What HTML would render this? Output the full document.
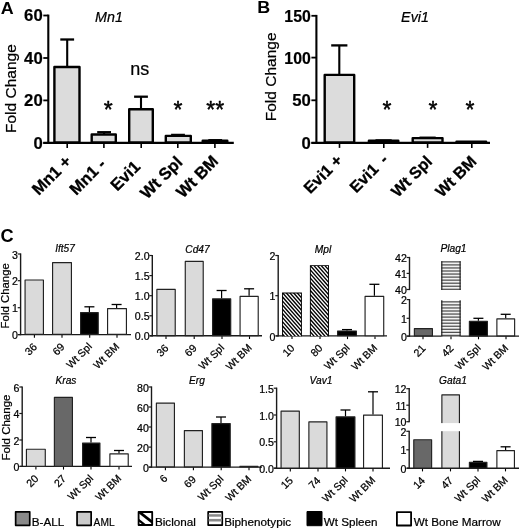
<!DOCTYPE html>
<html><head><meta charset="utf-8"><title>Figure</title>
<style>
html,body{margin:0;padding:0;background:#fff;}
body{width:520px;height:529px;overflow:hidden;}
svg{display:block;font-family:"Liberation Sans", sans-serif;filter:blur(0.35px);}
</style></head><body>
<svg width="520" height="529" viewBox="0 0 520 529">
<g stroke-linejoin="round">
<rect width="520" height="529" fill="#fff"/>
<text transform="translate(0.8,13.5) scale(1.1,1)" font-size="16.3" font-weight="bold">A</text>
<line x1="48.30" y1="14.60" x2="48.30" y2="144.00" stroke="#000" stroke-width="2.1"/>
<line x1="43.30" y1="142.90" x2="233.80" y2="142.90" stroke="#000" stroke-width="2.3"/>
<line x1="43.30" y1="15.50" x2="48.30" y2="15.50" stroke="#000" stroke-width="1.8"/>
<text x="42.70" y="21.40" font-size="17.4" text-anchor="end" font-weight="bold" font-style="normal" fill="#000" stroke="#000" stroke-width="0.2" textLength="18.6" lengthAdjust="spacingAndGlyphs">60</text>
<line x1="43.30" y1="58.00" x2="48.30" y2="58.00" stroke="#000" stroke-width="1.8"/>
<text x="42.70" y="63.90" font-size="17.4" text-anchor="end" font-weight="bold" font-style="normal" fill="#000" stroke="#000" stroke-width="0.2" textLength="18.6" lengthAdjust="spacingAndGlyphs">40</text>
<line x1="43.30" y1="100.40" x2="48.30" y2="100.40" stroke="#000" stroke-width="1.8"/>
<text x="42.70" y="106.30" font-size="17.4" text-anchor="end" font-weight="bold" font-style="normal" fill="#000" stroke="#000" stroke-width="0.2" textLength="18.6" lengthAdjust="spacingAndGlyphs">20</text>
<line x1="43.30" y1="142.90" x2="48.30" y2="142.90" stroke="#000" stroke-width="1.8"/>
<text x="42.70" y="148.80" font-size="17.4" text-anchor="end" font-weight="bold" font-style="normal" fill="#000" stroke="#000" stroke-width="0.2" textLength="9.3" lengthAdjust="spacingAndGlyphs">0</text>
<text x="109.00" y="22.40" font-size="14.3" text-anchor="middle" font-weight="normal" font-style="italic" fill="#000" stroke="#000" stroke-width="0.22">Mn1</text>
<rect x="54.40" y="67.00" width="25.10" height="75.50" fill="#dcdcdc" stroke="#000" stroke-width="2.4"/>
<rect x="91.70" y="134.50" width="24.10" height="8.00" fill="#dcdcdc" stroke="#000" stroke-width="2.4"/>
<rect x="129.20" y="109.20" width="23.60" height="33.30" fill="#dcdcdc" stroke="#000" stroke-width="2.4"/>
<rect x="165.80" y="135.90" width="25.00" height="6.60" fill="#dcdcdc" stroke="#000" stroke-width="2.4"/>
<rect x="202.70" y="140.80" width="24.60" height="1.70" fill="#dcdcdc" stroke="#000" stroke-width="2.4"/>
<line x1="67.20" y1="66.80" x2="67.20" y2="39.50" stroke="#000" stroke-width="2.1"/>
<line x1="60.30" y1="39.50" x2="74.10" y2="39.50" stroke="#000" stroke-width="2.3"/>
<line x1="104.10" y1="134.30" x2="104.10" y2="132.20" stroke="#000" stroke-width="2.1"/>
<line x1="97.20" y1="132.20" x2="111.00" y2="132.20" stroke="#000" stroke-width="2.3"/>
<line x1="141.00" y1="109.00" x2="141.00" y2="96.70" stroke="#000" stroke-width="2.1"/>
<line x1="134.10" y1="96.70" x2="147.90" y2="96.70" stroke="#000" stroke-width="2.3"/>
<line x1="178.00" y1="135.70" x2="178.00" y2="134.90" stroke="#000" stroke-width="2.1"/>
<line x1="171.10" y1="134.90" x2="184.90" y2="134.90" stroke="#000" stroke-width="2.3"/>
<line x1="215.20" y1="140.60" x2="215.20" y2="140.20" stroke="#000" stroke-width="2.1"/>
<line x1="208.30" y1="140.20" x2="222.10" y2="140.20" stroke="#000" stroke-width="2.3"/>
<line x1="67.20" y1="143.90" x2="67.20" y2="147.90" stroke="#000" stroke-width="1.6"/>
<line x1="103.90" y1="143.90" x2="103.90" y2="147.90" stroke="#000" stroke-width="1.6"/>
<line x1="141.20" y1="143.90" x2="141.20" y2="147.90" stroke="#000" stroke-width="1.6"/>
<line x1="177.80" y1="143.90" x2="177.80" y2="147.90" stroke="#000" stroke-width="1.6"/>
<line x1="214.90" y1="143.90" x2="214.90" y2="147.90" stroke="#000" stroke-width="1.6"/>
<text transform="translate(72.30,162.50) rotate(-45)" font-size="16.6" text-anchor="end" font-weight="bold" font-style="normal" fill="#000" stroke="#000" stroke-width="0.3">Mn1 +</text>
<text transform="translate(106.80,165.30) rotate(-45)" font-size="16.6" text-anchor="end" font-weight="bold" font-style="normal" fill="#000" stroke="#000" stroke-width="0.3">Mn1 -</text>
<text transform="translate(141.30,167.70) rotate(-45)" font-size="16.6" text-anchor="end" font-weight="bold" font-style="normal" fill="#000" stroke="#000" stroke-width="0.3">Evi1</text>
<text transform="translate(183.50,163.30) rotate(-45)" font-size="16.6" text-anchor="end" font-weight="bold" font-style="normal" fill="#000" stroke="#000" stroke-width="0.3">Wt Spl</text>
<text transform="translate(219.40,162.30) rotate(-45)" font-size="16.6" text-anchor="end" font-weight="bold" font-style="normal" fill="#000" stroke="#000" stroke-width="0.3">Wt BM</text>
<text x="108.30" y="118.20" font-size="23" text-anchor="middle" font-weight="normal" font-style="normal" fill="#000" stroke="#000" stroke-width="0.45">*</text>
<text x="139.80" y="75.20" font-size="18" text-anchor="middle" font-weight="normal" font-style="normal" fill="#000" stroke="#000" stroke-width="0.22">ns</text>
<text x="178.00" y="118.20" font-size="23" text-anchor="middle" font-weight="normal" font-style="normal" fill="#000" stroke="#000" stroke-width="0.45">*</text>
<text x="215.30" y="118.20" font-size="23" text-anchor="middle" font-weight="normal" font-style="normal" fill="#000" stroke="#000" stroke-width="0.45">**</text>
<text transform="translate(16.00,88.6) rotate(-90) scale(1.125,1)" font-size="13.8" text-anchor="middle" stroke="#000" stroke-width="0.22">Fold Change</text>
<text transform="translate(257.3,13.4) scale(1.1,1)" font-size="16.3" font-weight="bold">B</text>
<line x1="316.40" y1="14.90" x2="316.40" y2="144.00" stroke="#000" stroke-width="2.1"/>
<line x1="311.40" y1="142.90" x2="490.00" y2="142.90" stroke="#000" stroke-width="2.3"/>
<line x1="311.40" y1="15.80" x2="316.40" y2="15.80" stroke="#000" stroke-width="1.8"/>
<text x="310.80" y="21.70" font-size="17.4" text-anchor="end" font-weight="bold" font-style="normal" fill="#000" stroke="#000" stroke-width="0.2" textLength="26.5" lengthAdjust="spacingAndGlyphs">150</text>
<line x1="311.40" y1="57.60" x2="316.40" y2="57.60" stroke="#000" stroke-width="1.8"/>
<text x="310.80" y="63.50" font-size="17.4" text-anchor="end" font-weight="bold" font-style="normal" fill="#000" stroke="#000" stroke-width="0.2" textLength="26.5" lengthAdjust="spacingAndGlyphs">100</text>
<line x1="311.40" y1="100.30" x2="316.40" y2="100.30" stroke="#000" stroke-width="1.8"/>
<text x="310.80" y="106.20" font-size="17.4" text-anchor="end" font-weight="bold" font-style="normal" fill="#000" stroke="#000" stroke-width="0.2" textLength="18.6" lengthAdjust="spacingAndGlyphs">50</text>
<line x1="311.40" y1="142.90" x2="316.40" y2="142.90" stroke="#000" stroke-width="1.8"/>
<text x="310.80" y="148.80" font-size="17.4" text-anchor="end" font-weight="bold" font-style="normal" fill="#000" stroke="#000" stroke-width="0.2" textLength="9.3" lengthAdjust="spacingAndGlyphs">0</text>
<text x="415.00" y="22.40" font-size="14.3" text-anchor="middle" font-weight="normal" font-style="italic" fill="#000" stroke="#000" stroke-width="0.22">Evi1</text>
<rect x="324.70" y="74.90" width="29.50" height="67.60" fill="#dcdcdc" stroke="#000" stroke-width="2.4"/>
<rect x="368.90" y="140.80" width="29.40" height="1.70" fill="#dcdcdc" stroke="#000" stroke-width="2.4"/>
<rect x="412.70" y="138.10" width="29.80" height="4.40" fill="#dcdcdc" stroke="#000" stroke-width="2.4"/>
<rect x="456.50" y="141.80" width="29.60" height="0.70" fill="#dcdcdc" stroke="#000" stroke-width="2.4"/>
<line x1="339.30" y1="74.70" x2="339.30" y2="45.40" stroke="#000" stroke-width="2.1"/>
<line x1="331.20" y1="45.40" x2="347.40" y2="45.40" stroke="#000" stroke-width="2.3"/>
<line x1="383.60" y1="140.60" x2="383.60" y2="140.40" stroke="#000" stroke-width="2.1"/>
<line x1="375.50" y1="140.40" x2="391.70" y2="140.40" stroke="#000" stroke-width="2.3"/>
<line x1="427.60" y1="137.90" x2="427.60" y2="137.70" stroke="#000" stroke-width="2.1"/>
<line x1="419.50" y1="137.70" x2="435.70" y2="137.70" stroke="#000" stroke-width="2.3"/>
<line x1="339.50" y1="143.90" x2="339.50" y2="147.90" stroke="#000" stroke-width="1.6"/>
<line x1="383.80" y1="143.90" x2="383.80" y2="147.90" stroke="#000" stroke-width="1.6"/>
<line x1="427.60" y1="143.90" x2="427.60" y2="147.90" stroke="#000" stroke-width="1.6"/>
<line x1="471.80" y1="143.90" x2="471.80" y2="147.90" stroke="#000" stroke-width="1.6"/>
<text transform="translate(343.50,161.40) rotate(-45)" font-size="16.1" text-anchor="end" font-weight="bold" font-style="normal" fill="#000" stroke="#000" stroke-width="0.3">Evi1 +</text>
<text transform="translate(389.00,160.80) rotate(-45)" font-size="16.1" text-anchor="end" font-weight="bold" font-style="normal" fill="#000" word-spacing="3.5" stroke="#000" stroke-width="0.3">Evi1 -</text>
<text transform="translate(433.20,162.50) rotate(-45)" font-size="16.1" text-anchor="end" font-weight="bold" font-style="normal" fill="#000" stroke="#000" stroke-width="0.3">Wt Spl</text>
<text transform="translate(477.50,162.50) rotate(-45)" font-size="16.1" text-anchor="end" font-weight="bold" font-style="normal" fill="#000" stroke="#000" stroke-width="0.3">Wt BM</text>
<text x="387.00" y="118.20" font-size="23" text-anchor="middle" font-weight="normal" font-style="normal" fill="#000" stroke="#000" stroke-width="0.45">*</text>
<text x="433.00" y="118.20" font-size="23" text-anchor="middle" font-weight="normal" font-style="normal" fill="#000" stroke="#000" stroke-width="0.45">*</text>
<text x="470.00" y="118.20" font-size="23" text-anchor="middle" font-weight="normal" font-style="normal" fill="#000" stroke="#000" stroke-width="0.45">*</text>
<text transform="translate(276.00,76.9) rotate(-90) scale(1.125,1)" font-size="13.8" text-anchor="middle" stroke="#000" stroke-width="0.22">Fold Change</text>
<text x="0.6" y="242.3" font-size="18.2" font-weight="bold">C</text>
<defs>
<pattern id="diag" width="3.2" height="4.6" patternUnits="userSpaceOnUse">
<rect width="3.2" height="4.6" fill="#fff"/>
<path d="M-3.2,-4.6 L6.4,9.2 M-6.4,-4.6 L3.2,9.2 M0,-4.6 L9.6,9.2" stroke="#000" stroke-width="1.55"/>
</pattern>
<pattern id="hor" width="3" height="3" patternUnits="userSpaceOnUse">
<rect width="3" height="3" fill="#f2f2f2"/>
<rect y="0" width="3" height="1.35" fill="#4a4a4a"/>
</pattern>
</defs>
<line x1="20.60" y1="253.40" x2="20.60" y2="335.20" stroke="#1a1a1a" stroke-width="1.4"/>
<line x1="18.20" y1="334.60" x2="131.00" y2="334.60" stroke="#1a1a1a" stroke-width="1.4"/>
<line x1="17.70" y1="254.00" x2="20.60" y2="254.00" stroke="#1a1a1a" stroke-width="1.2"/>
<text x="17.90" y="258.60" font-size="10.6" text-anchor="end" font-weight="normal" font-style="normal" fill="#000" stroke="#000" stroke-width="0.22">3</text>
<line x1="17.70" y1="280.70" x2="20.60" y2="280.70" stroke="#1a1a1a" stroke-width="1.2"/>
<text x="17.90" y="285.30" font-size="10.6" text-anchor="end" font-weight="normal" font-style="normal" fill="#000" stroke="#000" stroke-width="0.22">2</text>
<line x1="17.70" y1="307.70" x2="20.60" y2="307.70" stroke="#1a1a1a" stroke-width="1.2"/>
<text x="17.90" y="312.30" font-size="10.6" text-anchor="end" font-weight="normal" font-style="normal" fill="#000" stroke="#000" stroke-width="0.22">1</text>
<line x1="17.70" y1="334.60" x2="20.60" y2="334.60" stroke="#1a1a1a" stroke-width="1.2"/>
<text x="17.90" y="339.20" font-size="10.6" text-anchor="end" font-weight="normal" font-style="normal" fill="#000" stroke="#000" stroke-width="0.22">0</text>
<text x="65.00" y="252.40" font-size="10.2" text-anchor="middle" font-weight="normal" font-style="italic" fill="#000" textLength="19.5" lengthAdjust="spacingAndGlyphs" stroke="#000" stroke-width="0.22">Ift57</text>
<rect x="25.07" y="279.97" width="18.35" height="54.45" fill="#dadada" stroke="#222" stroke-width="1.15"/>
<rect x="52.58" y="262.57" width="18.85" height="71.85" fill="#dadada" stroke="#222" stroke-width="1.15"/>
<rect x="80.58" y="312.57" width="17.65" height="21.85" fill="#000" stroke="#222" stroke-width="1.15"/>
<rect x="107.58" y="308.57" width="18.85" height="25.85" fill="#fff" stroke="#222" stroke-width="1.15"/>
<line x1="89.40" y1="312.00" x2="89.40" y2="306.80" stroke="#000" stroke-width="1.2"/>
<line x1="84.40" y1="306.80" x2="94.40" y2="306.80" stroke="#000" stroke-width="1.3"/>
<line x1="116.60" y1="308.00" x2="116.60" y2="304.50" stroke="#000" stroke-width="1.2"/>
<line x1="111.60" y1="304.50" x2="121.60" y2="304.50" stroke="#000" stroke-width="1.3"/>
<line x1="34.40" y1="335.10" x2="34.40" y2="337.80" stroke="#000" stroke-width="1.1"/>
<text transform="translate(37.70,347.60) rotate(-45)" font-size="10.7" text-anchor="end" font-weight="normal" font-style="normal" fill="#000" stroke="#000" stroke-width="0.22">36</text>
<line x1="62.00" y1="335.10" x2="62.00" y2="337.80" stroke="#000" stroke-width="1.1"/>
<text transform="translate(65.30,347.60) rotate(-45)" font-size="10.7" text-anchor="end" font-weight="normal" font-style="normal" fill="#000" stroke="#000" stroke-width="0.22">69</text>
<line x1="89.70" y1="335.10" x2="89.70" y2="337.80" stroke="#000" stroke-width="1.1"/>
<text transform="translate(92.60,347.20) rotate(-45)" font-size="10.5" text-anchor="end" font-weight="normal" font-style="normal" fill="#000" stroke="#000" stroke-width="0.22">Wt Spl</text>
<line x1="117.00" y1="335.10" x2="117.00" y2="337.80" stroke="#000" stroke-width="1.1"/>
<text transform="translate(119.90,347.20) rotate(-45)" font-size="10.5" text-anchor="end" font-weight="normal" font-style="normal" fill="#000" stroke="#000" stroke-width="0.22">Wt BM</text>
<text transform="translate(8.60,295.80) rotate(-90)" font-size="11.4" text-anchor="middle" font-weight="normal" font-style="normal" fill="#000" stroke="#000" stroke-width="0.22">Fold Change</text>
<line x1="152.30" y1="254.90" x2="152.30" y2="336.40" stroke="#1a1a1a" stroke-width="1.4"/>
<line x1="149.90" y1="335.80" x2="262.00" y2="335.80" stroke="#1a1a1a" stroke-width="1.4"/>
<line x1="149.40" y1="255.50" x2="152.30" y2="255.50" stroke="#1a1a1a" stroke-width="1.2"/>
<text x="149.60" y="260.10" font-size="10.6" text-anchor="end" font-weight="normal" font-style="normal" fill="#000" stroke="#000" stroke-width="0.22">2.0</text>
<line x1="149.40" y1="275.60" x2="152.30" y2="275.60" stroke="#1a1a1a" stroke-width="1.2"/>
<text x="149.60" y="280.20" font-size="10.6" text-anchor="end" font-weight="normal" font-style="normal" fill="#000" stroke="#000" stroke-width="0.22">1.5</text>
<line x1="149.40" y1="295.70" x2="152.30" y2="295.70" stroke="#1a1a1a" stroke-width="1.2"/>
<text x="149.60" y="300.30" font-size="10.6" text-anchor="end" font-weight="normal" font-style="normal" fill="#000" stroke="#000" stroke-width="0.22">1.0</text>
<line x1="149.40" y1="315.80" x2="152.30" y2="315.80" stroke="#1a1a1a" stroke-width="1.2"/>
<text x="149.60" y="320.40" font-size="10.6" text-anchor="end" font-weight="normal" font-style="normal" fill="#000" stroke="#000" stroke-width="0.22">0.5</text>
<line x1="149.40" y1="335.80" x2="152.30" y2="335.80" stroke="#1a1a1a" stroke-width="1.2"/>
<text x="149.60" y="340.40" font-size="10.6" text-anchor="end" font-weight="normal" font-style="normal" fill="#000" stroke="#000" stroke-width="0.22">0.0</text>
<text x="197.50" y="253.40" font-size="10.2" text-anchor="middle" font-weight="normal" font-style="italic" fill="#000" stroke="#000" stroke-width="0.22">Cd47</text>
<rect x="156.88" y="289.38" width="18.35" height="46.25" fill="#dadada" stroke="#222" stroke-width="1.15"/>
<rect x="185.27" y="261.38" width="17.95" height="74.25" fill="#dadada" stroke="#222" stroke-width="1.15"/>
<rect x="212.57" y="298.88" width="18.15" height="36.75" fill="#000" stroke="#222" stroke-width="1.15"/>
<rect x="240.07" y="296.38" width="18.15" height="39.25" fill="#fff" stroke="#222" stroke-width="1.15"/>
<line x1="221.60" y1="298.30" x2="221.60" y2="290.50" stroke="#000" stroke-width="1.2"/>
<line x1="216.60" y1="290.50" x2="226.60" y2="290.50" stroke="#000" stroke-width="1.3"/>
<line x1="249.10" y1="295.80" x2="249.10" y2="288.80" stroke="#000" stroke-width="1.2"/>
<line x1="244.10" y1="288.80" x2="254.10" y2="288.80" stroke="#000" stroke-width="1.3"/>
<line x1="166.00" y1="336.30" x2="166.00" y2="339.00" stroke="#000" stroke-width="1.1"/>
<text transform="translate(169.30,348.80) rotate(-45)" font-size="10.7" text-anchor="end" font-weight="normal" font-style="normal" fill="#000" stroke="#000" stroke-width="0.22">36</text>
<line x1="194.20" y1="336.30" x2="194.20" y2="339.00" stroke="#000" stroke-width="1.1"/>
<text transform="translate(197.50,348.80) rotate(-45)" font-size="10.7" text-anchor="end" font-weight="normal" font-style="normal" fill="#000" stroke="#000" stroke-width="0.22">69</text>
<line x1="222.00" y1="336.30" x2="222.00" y2="339.00" stroke="#000" stroke-width="1.1"/>
<text transform="translate(224.90,348.40) rotate(-45)" font-size="10.5" text-anchor="end" font-weight="normal" font-style="normal" fill="#000" stroke="#000" stroke-width="0.22">Wt Spl</text>
<line x1="249.50" y1="336.30" x2="249.50" y2="339.00" stroke="#000" stroke-width="1.1"/>
<text transform="translate(252.40,348.40) rotate(-45)" font-size="10.5" text-anchor="end" font-weight="normal" font-style="normal" fill="#000" stroke="#000" stroke-width="0.22">Wt BM</text>
<line x1="278.20" y1="254.90" x2="278.20" y2="336.50" stroke="#1a1a1a" stroke-width="1.4"/>
<line x1="275.80" y1="335.90" x2="387.00" y2="335.90" stroke="#1a1a1a" stroke-width="1.4"/>
<line x1="275.30" y1="255.50" x2="278.20" y2="255.50" stroke="#1a1a1a" stroke-width="1.2"/>
<text x="275.50" y="260.10" font-size="10.6" text-anchor="end" font-weight="normal" font-style="normal" fill="#000" stroke="#000" stroke-width="0.22">2</text>
<line x1="275.30" y1="295.70" x2="278.20" y2="295.70" stroke="#1a1a1a" stroke-width="1.2"/>
<text x="275.50" y="300.30" font-size="10.6" text-anchor="end" font-weight="normal" font-style="normal" fill="#000" stroke="#000" stroke-width="0.22">1</text>
<line x1="275.30" y1="335.90" x2="278.20" y2="335.90" stroke="#1a1a1a" stroke-width="1.2"/>
<text x="275.50" y="340.50" font-size="10.6" text-anchor="end" font-weight="normal" font-style="normal" fill="#000" stroke="#000" stroke-width="0.22">0</text>
<text x="323.00" y="252.60" font-size="10.2" text-anchor="middle" font-weight="normal" font-style="italic" fill="#000" stroke="#000" stroke-width="0.22">Mpl</text>
<clipPath id="dg1"><rect x="282.90" y="293.40" width="18.10" height="42.80"/></clipPath>
<rect x="282.00" y="292.50" width="19.90" height="43.80" fill="#000"/>
<g clip-path="url(#dg1)" stroke="#fff" stroke-width="1.35">
<line x1="232.24" y1="287.50" x2="279.65" y2="341.30"/>
<line x1="235.89" y1="287.50" x2="283.30" y2="341.30"/>
<line x1="239.54" y1="287.50" x2="286.95" y2="341.30"/>
<line x1="243.19" y1="287.50" x2="290.60" y2="341.30"/>
<line x1="246.84" y1="287.50" x2="294.25" y2="341.30"/>
<line x1="250.49" y1="287.50" x2="297.90" y2="341.30"/>
<line x1="254.14" y1="287.50" x2="301.55" y2="341.30"/>
<line x1="257.79" y1="287.50" x2="305.20" y2="341.30"/>
<line x1="261.44" y1="287.50" x2="308.85" y2="341.30"/>
<line x1="265.09" y1="287.50" x2="312.50" y2="341.30"/>
<line x1="268.74" y1="287.50" x2="316.15" y2="341.30"/>
<line x1="272.39" y1="287.50" x2="319.80" y2="341.30"/>
<line x1="276.04" y1="287.50" x2="323.45" y2="341.30"/>
<line x1="279.69" y1="287.50" x2="327.10" y2="341.30"/>
<line x1="283.34" y1="287.50" x2="330.75" y2="341.30"/>
<line x1="286.99" y1="287.50" x2="334.40" y2="341.30"/>
<line x1="290.64" y1="287.50" x2="338.05" y2="341.30"/>
<line x1="294.29" y1="287.50" x2="341.70" y2="341.30"/>
<line x1="297.94" y1="287.50" x2="345.35" y2="341.30"/>
</g>
<clipPath id="dg2"><rect x="310.80" y="266.10" width="17.30" height="70.10"/></clipPath>
<rect x="309.90" y="265.20" width="19.10" height="71.10" fill="#000"/>
<g clip-path="url(#dg2)" stroke="#fff" stroke-width="1.35">
<line x1="234.34" y1="260.20" x2="305.80" y2="341.30"/>
<line x1="237.99" y1="260.20" x2="309.45" y2="341.30"/>
<line x1="241.64" y1="260.20" x2="313.10" y2="341.30"/>
<line x1="245.29" y1="260.20" x2="316.75" y2="341.30"/>
<line x1="248.94" y1="260.20" x2="320.40" y2="341.30"/>
<line x1="252.59" y1="260.20" x2="324.05" y2="341.30"/>
<line x1="256.24" y1="260.20" x2="327.70" y2="341.30"/>
<line x1="259.89" y1="260.20" x2="331.35" y2="341.30"/>
<line x1="263.54" y1="260.20" x2="335.00" y2="341.30"/>
<line x1="267.19" y1="260.20" x2="338.65" y2="341.30"/>
<line x1="270.84" y1="260.20" x2="342.30" y2="341.30"/>
<line x1="274.49" y1="260.20" x2="345.95" y2="341.30"/>
<line x1="278.14" y1="260.20" x2="349.60" y2="341.30"/>
<line x1="281.79" y1="260.20" x2="353.25" y2="341.30"/>
<line x1="285.44" y1="260.20" x2="356.90" y2="341.30"/>
<line x1="289.09" y1="260.20" x2="360.55" y2="341.30"/>
<line x1="292.74" y1="260.20" x2="364.20" y2="341.30"/>
<line x1="296.39" y1="260.20" x2="367.85" y2="341.30"/>
<line x1="300.04" y1="260.20" x2="371.50" y2="341.30"/>
<line x1="303.69" y1="260.20" x2="375.15" y2="341.30"/>
<line x1="307.34" y1="260.20" x2="378.80" y2="341.30"/>
<line x1="310.99" y1="260.20" x2="382.45" y2="341.30"/>
<line x1="314.64" y1="260.20" x2="386.10" y2="341.30"/>
<line x1="318.29" y1="260.20" x2="389.75" y2="341.30"/>
<line x1="321.94" y1="260.20" x2="393.40" y2="341.30"/>
<line x1="325.59" y1="260.20" x2="397.05" y2="341.30"/>
</g>
<rect x="337.57" y="330.97" width="18.85" height="4.75" fill="#000" stroke="#222" stroke-width="1.15"/>
<rect x="365.07" y="296.38" width="18.65" height="39.35" fill="#fff" stroke="#222" stroke-width="1.15"/>
<line x1="347.00" y1="330.40" x2="347.00" y2="329.60" stroke="#000" stroke-width="1.2"/>
<line x1="342.00" y1="329.60" x2="352.00" y2="329.60" stroke="#000" stroke-width="1.3"/>
<line x1="374.40" y1="295.80" x2="374.40" y2="284.30" stroke="#000" stroke-width="1.2"/>
<line x1="369.40" y1="284.30" x2="379.40" y2="284.30" stroke="#000" stroke-width="1.3"/>
<line x1="292.00" y1="336.40" x2="292.00" y2="339.10" stroke="#000" stroke-width="1.1"/>
<text transform="translate(295.30,348.90) rotate(-45)" font-size="10.7" text-anchor="end" font-weight="normal" font-style="normal" fill="#000" stroke="#000" stroke-width="0.22">10</text>
<line x1="320.00" y1="336.40" x2="320.00" y2="339.10" stroke="#000" stroke-width="1.1"/>
<text transform="translate(323.30,348.90) rotate(-45)" font-size="10.7" text-anchor="end" font-weight="normal" font-style="normal" fill="#000" stroke="#000" stroke-width="0.22">80</text>
<line x1="347.50" y1="336.40" x2="347.50" y2="339.10" stroke="#000" stroke-width="1.1"/>
<text transform="translate(350.40,348.50) rotate(-45)" font-size="10.5" text-anchor="end" font-weight="normal" font-style="normal" fill="#000" stroke="#000" stroke-width="0.22">Wt Spl</text>
<line x1="375.00" y1="336.40" x2="375.00" y2="339.10" stroke="#000" stroke-width="1.1"/>
<text transform="translate(377.90,348.50) rotate(-45)" font-size="10.5" text-anchor="end" font-weight="normal" font-style="normal" fill="#000" stroke="#000" stroke-width="0.22">Wt BM</text>
<line x1="409.50" y1="256.90" x2="409.50" y2="290.10" stroke="#1a1a1a" stroke-width="1.4"/>
<line x1="409.50" y1="299.00" x2="409.50" y2="336.70" stroke="#1a1a1a" stroke-width="1.4"/>
<line x1="407.10" y1="336.10" x2="519.00" y2="336.10" stroke="#1a1a1a" stroke-width="1.4"/>
<line x1="406.60" y1="257.50" x2="409.50" y2="257.50" stroke="#1a1a1a" stroke-width="1.2"/>
<text x="406.80" y="262.10" font-size="10.6" text-anchor="end" font-weight="normal" font-style="normal" fill="#000" stroke="#000" stroke-width="0.22">42</text>
<line x1="406.60" y1="273.40" x2="409.50" y2="273.40" stroke="#1a1a1a" stroke-width="1.2"/>
<text x="406.80" y="278.00" font-size="10.6" text-anchor="end" font-weight="normal" font-style="normal" fill="#000" stroke="#000" stroke-width="0.22">41</text>
<line x1="406.60" y1="289.50" x2="409.50" y2="289.50" stroke="#1a1a1a" stroke-width="1.2"/>
<text x="406.80" y="294.10" font-size="10.6" text-anchor="end" font-weight="normal" font-style="normal" fill="#000" stroke="#000" stroke-width="0.22">40</text>
<line x1="406.60" y1="299.60" x2="409.50" y2="299.60" stroke="#1a1a1a" stroke-width="1.2"/>
<text x="406.80" y="304.20" font-size="10.6" text-anchor="end" font-weight="normal" font-style="normal" fill="#000" stroke="#000" stroke-width="0.22">2</text>
<line x1="406.60" y1="318.30" x2="409.50" y2="318.30" stroke="#1a1a1a" stroke-width="1.2"/>
<text x="406.80" y="322.90" font-size="10.6" text-anchor="end" font-weight="normal" font-style="normal" fill="#000" stroke="#000" stroke-width="0.22">1</text>
<line x1="406.60" y1="336.10" x2="409.50" y2="336.10" stroke="#1a1a1a" stroke-width="1.2"/>
<text x="406.80" y="340.70" font-size="10.6" text-anchor="end" font-weight="normal" font-style="normal" fill="#000" stroke="#000" stroke-width="0.22">0</text>
<text x="453.50" y="252.40" font-size="10.2" text-anchor="middle" font-weight="normal" font-style="italic" fill="#000" stroke="#000" stroke-width="0.22">Plag1</text>
<rect x="414.38" y="328.68" width="18.05" height="7.25" fill="#686868" stroke="#222" stroke-width="1.15"/>
<rect x="441.20" y="261.20" width="19.50" height="28.70" fill="#f2f2f2"/>
<line x1="441.20" y1="289.30" x2="460.70" y2="289.30" stroke="#505050" stroke-width="1.25"/>
<line x1="441.20" y1="286.25" x2="460.70" y2="286.25" stroke="#505050" stroke-width="1.25"/>
<line x1="441.20" y1="283.20" x2="460.70" y2="283.20" stroke="#505050" stroke-width="1.25"/>
<line x1="441.20" y1="280.15" x2="460.70" y2="280.15" stroke="#505050" stroke-width="1.25"/>
<line x1="441.20" y1="277.10" x2="460.70" y2="277.10" stroke="#505050" stroke-width="1.25"/>
<line x1="441.20" y1="274.05" x2="460.70" y2="274.05" stroke="#505050" stroke-width="1.25"/>
<line x1="441.20" y1="271.00" x2="460.70" y2="271.00" stroke="#505050" stroke-width="1.25"/>
<line x1="441.20" y1="267.95" x2="460.70" y2="267.95" stroke="#505050" stroke-width="1.25"/>
<line x1="441.20" y1="264.90" x2="460.70" y2="264.90" stroke="#505050" stroke-width="1.25"/>
<line x1="441.20" y1="261.85" x2="460.70" y2="261.85" stroke="#505050" stroke-width="1.25"/>
<line x1="441.80" y1="261.20" x2="441.80" y2="289.90" stroke="#222" stroke-width="1.2"/>
<line x1="460.10" y1="261.20" x2="460.10" y2="289.90" stroke="#222" stroke-width="1.2"/>
<rect x="441.20" y="300.60" width="19.50" height="35.90" fill="#f2f2f2"/>
<line x1="441.20" y1="335.40" x2="460.70" y2="335.40" stroke="#505050" stroke-width="1.25"/>
<line x1="441.20" y1="332.35" x2="460.70" y2="332.35" stroke="#505050" stroke-width="1.25"/>
<line x1="441.20" y1="329.30" x2="460.70" y2="329.30" stroke="#505050" stroke-width="1.25"/>
<line x1="441.20" y1="326.25" x2="460.70" y2="326.25" stroke="#505050" stroke-width="1.25"/>
<line x1="441.20" y1="323.20" x2="460.70" y2="323.20" stroke="#505050" stroke-width="1.25"/>
<line x1="441.20" y1="320.15" x2="460.70" y2="320.15" stroke="#505050" stroke-width="1.25"/>
<line x1="441.20" y1="317.10" x2="460.70" y2="317.10" stroke="#505050" stroke-width="1.25"/>
<line x1="441.20" y1="314.05" x2="460.70" y2="314.05" stroke="#505050" stroke-width="1.25"/>
<line x1="441.20" y1="311.00" x2="460.70" y2="311.00" stroke="#505050" stroke-width="1.25"/>
<line x1="441.20" y1="307.95" x2="460.70" y2="307.95" stroke="#505050" stroke-width="1.25"/>
<line x1="441.20" y1="304.90" x2="460.70" y2="304.90" stroke="#505050" stroke-width="1.25"/>
<line x1="441.20" y1="301.85" x2="460.70" y2="301.85" stroke="#505050" stroke-width="1.25"/>
<line x1="441.80" y1="300.30" x2="441.80" y2="336.50" stroke="#222" stroke-width="1.2"/>
<line x1="460.10" y1="300.30" x2="460.10" y2="336.50" stroke="#222" stroke-width="1.2"/>
<rect x="469.38" y="321.38" width="18.05" height="14.55" fill="#000" stroke="#222" stroke-width="1.15"/>
<rect x="496.88" y="318.88" width="17.75" height="17.05" fill="#fff" stroke="#222" stroke-width="1.15"/>
<line x1="478.40" y1="320.80" x2="478.40" y2="318.30" stroke="#000" stroke-width="1.2"/>
<line x1="473.40" y1="318.30" x2="483.40" y2="318.30" stroke="#000" stroke-width="1.3"/>
<line x1="505.70" y1="318.30" x2="505.70" y2="314.30" stroke="#000" stroke-width="1.2"/>
<line x1="500.70" y1="314.30" x2="510.70" y2="314.30" stroke="#000" stroke-width="1.3"/>
<line x1="423.00" y1="336.60" x2="423.00" y2="339.30" stroke="#000" stroke-width="1.1"/>
<text transform="translate(426.30,349.10) rotate(-45)" font-size="10.7" text-anchor="end" font-weight="normal" font-style="normal" fill="#000" stroke="#000" stroke-width="0.22">21</text>
<line x1="451.00" y1="336.60" x2="451.00" y2="339.30" stroke="#000" stroke-width="1.1"/>
<text transform="translate(454.30,349.10) rotate(-45)" font-size="10.7" text-anchor="end" font-weight="normal" font-style="normal" fill="#000" stroke="#000" stroke-width="0.22">42</text>
<line x1="478.50" y1="336.60" x2="478.50" y2="339.30" stroke="#000" stroke-width="1.1"/>
<text transform="translate(481.40,348.70) rotate(-45)" font-size="10.5" text-anchor="end" font-weight="normal" font-style="normal" fill="#000" stroke="#000" stroke-width="0.22">Wt Spl</text>
<line x1="506.00" y1="336.60" x2="506.00" y2="339.30" stroke="#000" stroke-width="1.1"/>
<text transform="translate(508.90,348.70) rotate(-45)" font-size="10.5" text-anchor="end" font-weight="normal" font-style="normal" fill="#000" stroke="#000" stroke-width="0.22">Wt BM</text>
<line x1="22.20" y1="386.40" x2="22.20" y2="467.00" stroke="#1a1a1a" stroke-width="1.4"/>
<line x1="19.80" y1="466.40" x2="132.00" y2="466.40" stroke="#1a1a1a" stroke-width="1.4"/>
<line x1="19.30" y1="387.00" x2="22.20" y2="387.00" stroke="#1a1a1a" stroke-width="1.2"/>
<text x="19.50" y="391.60" font-size="10.6" text-anchor="end" font-weight="normal" font-style="normal" fill="#000" stroke="#000" stroke-width="0.22">6</text>
<line x1="19.30" y1="413.50" x2="22.20" y2="413.50" stroke="#1a1a1a" stroke-width="1.2"/>
<text x="19.50" y="418.10" font-size="10.6" text-anchor="end" font-weight="normal" font-style="normal" fill="#000" stroke="#000" stroke-width="0.22">4</text>
<line x1="19.30" y1="440.00" x2="22.20" y2="440.00" stroke="#1a1a1a" stroke-width="1.2"/>
<text x="19.50" y="444.60" font-size="10.6" text-anchor="end" font-weight="normal" font-style="normal" fill="#000" stroke="#000" stroke-width="0.22">2</text>
<line x1="19.30" y1="466.40" x2="22.20" y2="466.40" stroke="#1a1a1a" stroke-width="1.2"/>
<text x="19.50" y="471.00" font-size="10.6" text-anchor="end" font-weight="normal" font-style="normal" fill="#000" stroke="#000" stroke-width="0.22">0</text>
<text x="66.00" y="383.60" font-size="10.2" text-anchor="middle" font-weight="normal" font-style="italic" fill="#000" stroke="#000" stroke-width="0.22">Kras</text>
<rect x="26.43" y="449.27" width="18.85" height="16.95" fill="#dadada" stroke="#222" stroke-width="1.15"/>
<rect x="54.38" y="397.38" width="18.05" height="68.85" fill="#686868" stroke="#222" stroke-width="1.15"/>
<rect x="82.58" y="443.07" width="17.35" height="23.15" fill="#000" stroke="#222" stroke-width="1.15"/>
<rect x="109.88" y="453.88" width="18.35" height="12.35" fill="#fff" stroke="#222" stroke-width="1.15"/>
<line x1="91.00" y1="442.50" x2="91.00" y2="437.50" stroke="#000" stroke-width="1.2"/>
<line x1="86.00" y1="437.50" x2="96.00" y2="437.50" stroke="#000" stroke-width="1.3"/>
<line x1="119.00" y1="453.30" x2="119.00" y2="450.50" stroke="#000" stroke-width="1.2"/>
<line x1="114.00" y1="450.50" x2="124.00" y2="450.50" stroke="#000" stroke-width="1.3"/>
<line x1="35.90" y1="466.90" x2="35.90" y2="469.60" stroke="#000" stroke-width="1.1"/>
<text transform="translate(39.20,479.40) rotate(-45)" font-size="10.7" text-anchor="end" font-weight="normal" font-style="normal" fill="#000" stroke="#000" stroke-width="0.22">20</text>
<line x1="63.50" y1="466.90" x2="63.50" y2="469.60" stroke="#000" stroke-width="1.1"/>
<text transform="translate(66.80,479.40) rotate(-45)" font-size="10.7" text-anchor="end" font-weight="normal" font-style="normal" fill="#000" stroke="#000" stroke-width="0.22">27</text>
<line x1="91.00" y1="466.90" x2="91.00" y2="469.60" stroke="#000" stroke-width="1.1"/>
<text transform="translate(93.90,479.00) rotate(-45)" font-size="10.5" text-anchor="end" font-weight="normal" font-style="normal" fill="#000" stroke="#000" stroke-width="0.22">Wt Spl</text>
<line x1="119.00" y1="466.90" x2="119.00" y2="469.60" stroke="#000" stroke-width="1.1"/>
<text transform="translate(121.90,479.00) rotate(-45)" font-size="10.5" text-anchor="end" font-weight="normal" font-style="normal" fill="#000" stroke="#000" stroke-width="0.22">Wt BM</text>
<text transform="translate(10.30,427.50) rotate(-90)" font-size="11.5" text-anchor="middle" font-weight="normal" font-style="normal" fill="#000" stroke="#000" stroke-width="0.22">Fold Change</text>
<line x1="151.50" y1="386.40" x2="151.50" y2="467.70" stroke="#1a1a1a" stroke-width="1.4"/>
<line x1="149.10" y1="467.10" x2="262.00" y2="467.10" stroke="#1a1a1a" stroke-width="1.4"/>
<line x1="148.60" y1="387.00" x2="151.50" y2="387.00" stroke="#1a1a1a" stroke-width="1.2"/>
<text x="148.80" y="391.60" font-size="10.6" text-anchor="end" font-weight="normal" font-style="normal" fill="#000" stroke="#000" stroke-width="0.22">80</text>
<line x1="148.60" y1="407.00" x2="151.50" y2="407.00" stroke="#1a1a1a" stroke-width="1.2"/>
<text x="148.80" y="411.60" font-size="10.6" text-anchor="end" font-weight="normal" font-style="normal" fill="#000" stroke="#000" stroke-width="0.22">60</text>
<line x1="148.60" y1="427.00" x2="151.50" y2="427.00" stroke="#1a1a1a" stroke-width="1.2"/>
<text x="148.80" y="431.60" font-size="10.6" text-anchor="end" font-weight="normal" font-style="normal" fill="#000" stroke="#000" stroke-width="0.22">40</text>
<line x1="148.60" y1="447.10" x2="151.50" y2="447.10" stroke="#1a1a1a" stroke-width="1.2"/>
<text x="148.80" y="451.70" font-size="10.6" text-anchor="end" font-weight="normal" font-style="normal" fill="#000" stroke="#000" stroke-width="0.22">20</text>
<line x1="148.60" y1="467.10" x2="151.50" y2="467.10" stroke="#1a1a1a" stroke-width="1.2"/>
<text x="148.80" y="471.70" font-size="10.6" text-anchor="end" font-weight="normal" font-style="normal" fill="#000" stroke="#000" stroke-width="0.22">0</text>
<text x="197.00" y="383.60" font-size="10.2" text-anchor="middle" font-weight="normal" font-style="italic" fill="#000" stroke="#000" stroke-width="0.22">Erg</text>
<rect x="156.38" y="403.07" width="18.05" height="63.85" fill="#dadada" stroke="#222" stroke-width="1.15"/>
<rect x="184.38" y="430.57" width="18.05" height="36.35" fill="#dadada" stroke="#222" stroke-width="1.15"/>
<rect x="211.88" y="423.57" width="18.35" height="43.35" fill="#000" stroke="#222" stroke-width="1.15"/>
<rect x="239.88" y="466.27" width="18.05" height="0.65" fill="#fff" stroke="#222" stroke-width="1.15"/>
<line x1="221.00" y1="423.00" x2="221.00" y2="417.00" stroke="#000" stroke-width="1.2"/>
<line x1="216.00" y1="417.00" x2="226.00" y2="417.00" stroke="#000" stroke-width="1.3"/>
<line x1="165.40" y1="467.60" x2="165.40" y2="470.30" stroke="#000" stroke-width="1.1"/>
<text transform="translate(168.20,479.10) rotate(-45)" font-size="10.7" text-anchor="end" font-weight="normal" font-style="normal" fill="#000" stroke="#000" stroke-width="0.22">6</text>
<line x1="193.40" y1="467.60" x2="193.40" y2="470.30" stroke="#000" stroke-width="1.1"/>
<text transform="translate(196.70,480.10) rotate(-45)" font-size="10.7" text-anchor="end" font-weight="normal" font-style="normal" fill="#000" stroke="#000" stroke-width="0.22">69</text>
<line x1="221.20" y1="467.60" x2="221.20" y2="470.30" stroke="#000" stroke-width="1.1"/>
<text transform="translate(224.10,479.70) rotate(-45)" font-size="10.5" text-anchor="end" font-weight="normal" font-style="normal" fill="#000" stroke="#000" stroke-width="0.22">Wt Spl</text>
<line x1="249.00" y1="467.60" x2="249.00" y2="470.30" stroke="#000" stroke-width="1.1"/>
<text transform="translate(251.90,479.70) rotate(-45)" font-size="10.5" text-anchor="end" font-weight="normal" font-style="normal" fill="#000" stroke="#000" stroke-width="0.22">Wt BM</text>
<line x1="276.60" y1="387.60" x2="276.60" y2="468.80" stroke="#1a1a1a" stroke-width="1.4"/>
<line x1="274.20" y1="468.20" x2="390.00" y2="468.20" stroke="#1a1a1a" stroke-width="1.4"/>
<line x1="273.70" y1="388.20" x2="276.60" y2="388.20" stroke="#1a1a1a" stroke-width="1.2"/>
<text x="273.90" y="392.80" font-size="10.6" text-anchor="end" font-weight="normal" font-style="normal" fill="#000" stroke="#000" stroke-width="0.22">1.5</text>
<line x1="273.70" y1="415.00" x2="276.60" y2="415.00" stroke="#1a1a1a" stroke-width="1.2"/>
<text x="273.90" y="419.60" font-size="10.6" text-anchor="end" font-weight="normal" font-style="normal" fill="#000" stroke="#000" stroke-width="0.22">1.0</text>
<line x1="273.70" y1="441.80" x2="276.60" y2="441.80" stroke="#1a1a1a" stroke-width="1.2"/>
<text x="273.90" y="446.40" font-size="10.6" text-anchor="end" font-weight="normal" font-style="normal" fill="#000" stroke="#000" stroke-width="0.22">0.5</text>
<line x1="273.70" y1="468.20" x2="276.60" y2="468.20" stroke="#1a1a1a" stroke-width="1.2"/>
<text x="273.90" y="472.80" font-size="10.6" text-anchor="end" font-weight="normal" font-style="normal" fill="#000" stroke="#000" stroke-width="0.22">0.0</text>
<text x="321.00" y="383.60" font-size="10.2" text-anchor="middle" font-weight="normal" font-style="italic" fill="#000" stroke="#000" stroke-width="0.22">Vav1</text>
<rect x="281.07" y="411.07" width="18.25" height="56.95" fill="#dadada" stroke="#222" stroke-width="1.15"/>
<rect x="308.88" y="421.88" width="18.05" height="46.15" fill="#dadada" stroke="#222" stroke-width="1.15"/>
<rect x="336.07" y="416.88" width="18.85" height="51.15" fill="#000" stroke="#222" stroke-width="1.15"/>
<rect x="363.57" y="415.07" width="18.85" height="52.95" fill="#fff" stroke="#222" stroke-width="1.15"/>
<line x1="345.50" y1="416.30" x2="345.50" y2="410.00" stroke="#000" stroke-width="1.2"/>
<line x1="340.50" y1="410.00" x2="350.50" y2="410.00" stroke="#000" stroke-width="1.3"/>
<line x1="373.00" y1="414.50" x2="373.00" y2="391.80" stroke="#000" stroke-width="1.2"/>
<line x1="368.00" y1="391.80" x2="378.00" y2="391.80" stroke="#000" stroke-width="1.3"/>
<line x1="290.30" y1="468.70" x2="290.30" y2="471.40" stroke="#000" stroke-width="1.1"/>
<text transform="translate(293.60,481.20) rotate(-45)" font-size="10.7" text-anchor="end" font-weight="normal" font-style="normal" fill="#000" stroke="#000" stroke-width="0.22">15</text>
<line x1="318.00" y1="468.70" x2="318.00" y2="471.40" stroke="#000" stroke-width="1.1"/>
<text transform="translate(321.30,481.20) rotate(-45)" font-size="10.7" text-anchor="end" font-weight="normal" font-style="normal" fill="#000" stroke="#000" stroke-width="0.22">74</text>
<line x1="345.50" y1="468.70" x2="345.50" y2="471.40" stroke="#000" stroke-width="1.1"/>
<text transform="translate(348.40,480.80) rotate(-45)" font-size="10.5" text-anchor="end" font-weight="normal" font-style="normal" fill="#000" stroke="#000" stroke-width="0.22">Wt Spl</text>
<line x1="373.00" y1="468.70" x2="373.00" y2="471.40" stroke="#000" stroke-width="1.1"/>
<text transform="translate(375.90,480.80) rotate(-45)" font-size="10.5" text-anchor="end" font-weight="normal" font-style="normal" fill="#000" stroke="#000" stroke-width="0.22">Wt BM</text>
<line x1="409.20" y1="388.10" x2="409.20" y2="422.30" stroke="#1a1a1a" stroke-width="1.4"/>
<line x1="409.20" y1="430.70" x2="409.20" y2="468.80" stroke="#1a1a1a" stroke-width="1.4"/>
<line x1="406.80" y1="468.20" x2="519.00" y2="468.20" stroke="#1a1a1a" stroke-width="1.4"/>
<line x1="406.30" y1="388.70" x2="409.20" y2="388.70" stroke="#1a1a1a" stroke-width="1.2"/>
<text x="406.50" y="393.30" font-size="10.6" text-anchor="end" font-weight="normal" font-style="normal" fill="#000" stroke="#000" stroke-width="0.22">12</text>
<line x1="406.30" y1="405.20" x2="409.20" y2="405.20" stroke="#1a1a1a" stroke-width="1.2"/>
<text x="406.50" y="409.80" font-size="10.6" text-anchor="end" font-weight="normal" font-style="normal" fill="#000" stroke="#000" stroke-width="0.22">11</text>
<line x1="406.30" y1="421.70" x2="409.20" y2="421.70" stroke="#1a1a1a" stroke-width="1.2"/>
<text x="406.50" y="426.30" font-size="10.6" text-anchor="end" font-weight="normal" font-style="normal" fill="#000" stroke="#000" stroke-width="0.22">10</text>
<line x1="406.30" y1="431.30" x2="409.20" y2="431.30" stroke="#1a1a1a" stroke-width="1.2"/>
<text x="406.50" y="435.90" font-size="10.6" text-anchor="end" font-weight="normal" font-style="normal" fill="#000" stroke="#000" stroke-width="0.22">2</text>
<line x1="406.30" y1="449.80" x2="409.20" y2="449.80" stroke="#1a1a1a" stroke-width="1.2"/>
<text x="406.50" y="454.40" font-size="10.6" text-anchor="end" font-weight="normal" font-style="normal" fill="#000" stroke="#000" stroke-width="0.22">1</text>
<line x1="406.30" y1="468.20" x2="409.20" y2="468.20" stroke="#1a1a1a" stroke-width="1.2"/>
<text x="406.50" y="472.80" font-size="10.6" text-anchor="end" font-weight="normal" font-style="normal" fill="#000" stroke="#000" stroke-width="0.22">0</text>
<text x="453.00" y="384.00" font-size="10.2" text-anchor="middle" font-weight="normal" font-style="italic" fill="#000" stroke="#000" stroke-width="0.22">Gata1</text>
<rect x="413.77" y="439.77" width="17.85" height="28.25" fill="#686868" stroke="#222" stroke-width="1.15"/>
<rect x="441.88" y="394.88" width="17.55" height="73.15" fill="#dadada" stroke="#222" stroke-width="1.15"/>
<rect x="469.38" y="462.38" width="17.55" height="5.65" fill="#000" stroke="#222" stroke-width="1.15"/>
<rect x="496.88" y="450.57" width="17.55" height="17.45" fill="#fff" stroke="#222" stroke-width="1.15"/>
<line x1="478.00" y1="461.80" x2="478.00" y2="461.40" stroke="#000" stroke-width="1.2"/>
<line x1="473.00" y1="461.40" x2="483.00" y2="461.40" stroke="#000" stroke-width="1.3"/>
<line x1="505.60" y1="450.00" x2="505.60" y2="446.80" stroke="#000" stroke-width="1.2"/>
<line x1="500.60" y1="446.80" x2="510.60" y2="446.80" stroke="#000" stroke-width="1.3"/>
<line x1="422.50" y1="468.70" x2="422.50" y2="471.40" stroke="#000" stroke-width="1.1"/>
<text transform="translate(425.80,481.20) rotate(-45)" font-size="10.7" text-anchor="end" font-weight="normal" font-style="normal" fill="#000" stroke="#000" stroke-width="0.22">14</text>
<line x1="450.50" y1="468.70" x2="450.50" y2="471.40" stroke="#000" stroke-width="1.1"/>
<text transform="translate(453.80,481.20) rotate(-45)" font-size="10.7" text-anchor="end" font-weight="normal" font-style="normal" fill="#000" stroke="#000" stroke-width="0.22">47</text>
<line x1="478.00" y1="468.70" x2="478.00" y2="471.40" stroke="#000" stroke-width="1.1"/>
<text transform="translate(480.90,480.80) rotate(-45)" font-size="10.5" text-anchor="end" font-weight="normal" font-style="normal" fill="#000" stroke="#000" stroke-width="0.22">Wt Spl</text>
<line x1="505.50" y1="468.70" x2="505.50" y2="471.40" stroke="#000" stroke-width="1.1"/>
<text transform="translate(508.40,480.80) rotate(-45)" font-size="10.5" text-anchor="end" font-weight="normal" font-style="normal" fill="#000" stroke="#000" stroke-width="0.22">Wt BM</text>
<rect x="440" y="423.1" width="22" height="8.1" fill="#fff"/>
<rect x="15.65" y="511.85" width="14.10" height="13.50" fill="#8a8a8a" stroke="#000" stroke-width="1.7"/>
<text x="31.80" y="525.90" font-size="11.7" text-anchor="start" font-weight="normal" font-style="normal" fill="#000" stroke="#000" stroke-width="0.22">B-ALL</text>
<rect x="77.05" y="511.85" width="14.10" height="13.50" fill="#cbcbcb" stroke="#000" stroke-width="1.7"/>
<text x="93.60" y="525.90" font-size="11.7" text-anchor="start" font-weight="normal" font-style="normal" fill="#000" textLength="21" lengthAdjust="spacingAndGlyphs" stroke="#000" stroke-width="0.22">AML</text>
<rect x="138.60" y="512.00" width="13.60" height="13.00" fill="#fff" stroke="#000" stroke-width="1.8"/>
<clipPath id="bc"><rect x="138.4" y="511.8" width="14" height="13.4"/></clipPath>
<g clip-path="url(#bc)"><path d="M137.5,510.6 L153.5,523.2" stroke="#000" stroke-width="2.7"/><path d="M137.5,519.2 L147,526.6" stroke="#000" stroke-width="2.2"/></g>
<text x="154.90" y="525.90" font-size="11.7" text-anchor="start" font-weight="normal" font-style="normal" fill="#000" stroke="#000" stroke-width="0.22">Biclonal</text>
<rect x="208.15" y="511.95" width="14.10" height="13.10" fill="#fff" stroke="#000" stroke-width="1.7"/>
<rect x="208.6" y="514.2" width="13.2" height="2.5" fill="#8a8a8a"/>
<rect x="208.6" y="518.9" width="13.2" height="2.6" fill="#8a8a8a"/>
<text x="224.20" y="525.90" font-size="11.7" text-anchor="start" font-weight="normal" font-style="normal" fill="#000" stroke="#000" stroke-width="0.22">Biphenotypic</text>
<rect x="307.00" y="511.50" width="15.00" height="14.20" fill="#000" stroke="#000" stroke-width="1"/>
<text x="323.70" y="525.90" font-size="11.7" text-anchor="start" font-weight="normal" font-style="normal" fill="#000" stroke="#000" stroke-width="0.22">Wt Spleen</text>
<rect x="396.90" y="512.10" width="14.20" height="13.40" fill="#fff" stroke="#000" stroke-width="1.8"/>
<text x="413.70" y="525.90" font-size="11.7" text-anchor="start" font-weight="normal" font-style="normal" fill="#000" stroke="#000" stroke-width="0.22">Wt Bone Marrow</text>
</g>
</svg>
</body></html>
